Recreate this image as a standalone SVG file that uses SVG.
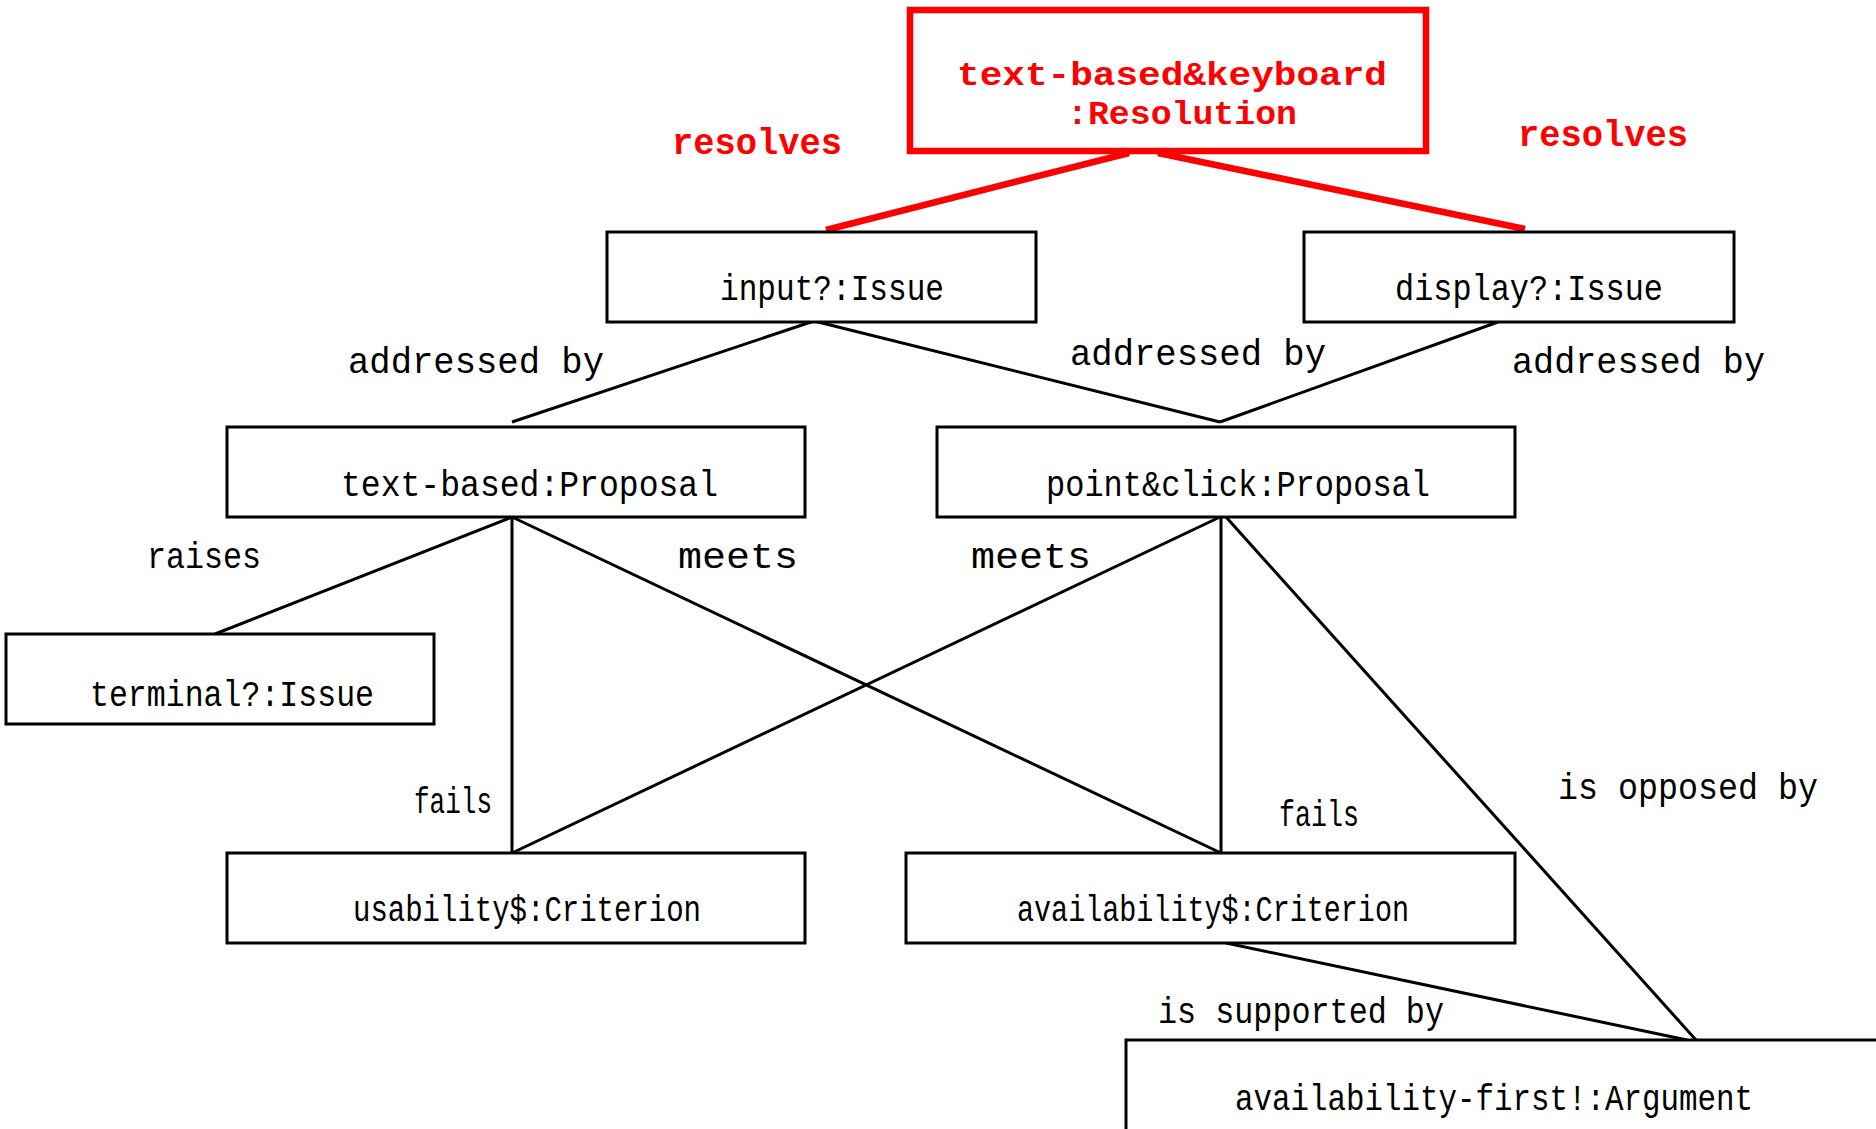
<svg xmlns="http://www.w3.org/2000/svg" width="1876" height="1129" viewBox="0 0 1876 1129">
  <style>
    .box { fill: #fff; stroke: #000; stroke-width: 3; }
    .res { fill: #fff; stroke: #ff0000; stroke-width: 6.5; }
    .lbl { font-family: "Liberation Mono", "DejaVu Sans Mono", monospace; font-size: 36px; fill: #000; }
    .rlbl { font-family: "Liberation Mono", "DejaVu Sans Mono", monospace; font-size: 37px; font-weight: bold; fill: #ff0000; }
    .rtitle { font-size: 34px; }
    .edge { stroke: #000; stroke-width: 3; fill: none; }
    .redge { stroke: #ff0000; stroke-width: 6.5; fill: none; }
  </style>
  <rect width="1876" height="1129" fill="#fff"/>

  <!-- connectors -->
  <g id="connectors">
    <line class="redge" x1="1129" y1="153" x2="826" y2="230"/>
    <line class="redge" x1="1158" y1="153" x2="1525" y2="229"/>
    <line class="edge" x1="814" y1="321" x2="512" y2="422"/>
    <line class="edge" x1="814" y1="321" x2="1220" y2="422"/>
    <line class="edge" x1="1498" y1="322" x2="1220" y2="422"/>
    <line class="edge" x1="512" y1="517" x2="215" y2="634"/>
    <line class="edge" x1="512" y1="517" x2="512" y2="853"/>
    <line class="edge" x1="512" y1="517" x2="1221" y2="853"/>
    <line class="edge" x1="1220" y1="517" x2="512" y2="853"/>
    <line class="edge" x1="1221" y1="517" x2="1221" y2="853"/>
    <line class="edge" x1="1226" y1="517" x2="1696" y2="1040"/>
    <line class="edge" x1="1226" y1="943" x2="1687" y2="1040"/>
    <text class="rlbl" x="672" y="154" textLength="170" lengthAdjust="spacingAndGlyphs">resolves</text>
    <text class="rlbl" x="1518" y="146" textLength="170" lengthAdjust="spacingAndGlyphs">resolves</text>
    <text class="lbl" x="348" y="373" textLength="256" lengthAdjust="spacingAndGlyphs">addressed by</text>
    <text class="lbl" x="1070" y="365" textLength="256" lengthAdjust="spacingAndGlyphs">addressed by</text>
    <text class="lbl" x="1512" y="373" textLength="253" lengthAdjust="spacingAndGlyphs">addressed by</text>
    <text class="lbl" x="147" y="568" textLength="114" lengthAdjust="spacingAndGlyphs">raises</text>
    <text class="lbl" x="678" y="568" textLength="120" lengthAdjust="spacingAndGlyphs">meets</text>
    <text class="lbl" x="971" y="568" textLength="120" lengthAdjust="spacingAndGlyphs">meets</text>
    <text class="lbl" x="414" y="813" textLength="78" lengthAdjust="spacingAndGlyphs">fails</text>
    <text class="lbl" x="1279" y="826" textLength="80" lengthAdjust="spacingAndGlyphs">fails</text>
    <text class="lbl" x="1558" y="799" textLength="260" lengthAdjust="spacingAndGlyphs">is opposed by</text>
    <text class="lbl" x="1158" y="1023" textLength="286" lengthAdjust="spacingAndGlyphs">is supported by</text>
  </g>

  <!-- nodes -->
  <g id="resolution">
    <rect class="res" x="910" y="10" width="516" height="141"/>
    <text class="rlbl rtitle" x="957" y="85" textLength="430" lengthAdjust="spacingAndGlyphs">text-based&amp;keyboard</text>
    <text class="rlbl rtitle" x="1067" y="124" textLength="230" lengthAdjust="spacingAndGlyphs">:Resolution</text>
  </g>
  <g id="input-issue">
    <rect class="box" x="607" y="232" width="429" height="90"/>
    <text class="lbl" x="720" y="300" textLength="224" lengthAdjust="spacingAndGlyphs">input?:Issue</text>
  </g>
  <g id="display-issue">
    <rect class="box" x="1304" y="232" width="430" height="90"/>
    <text class="lbl" x="1395" y="300" textLength="268" lengthAdjust="spacingAndGlyphs">display?:Issue</text>
  </g>
  <g id="text-based-proposal">
    <rect class="box" x="227" y="427" width="578" height="90"/>
    <text class="lbl" x="341" y="496" textLength="377" lengthAdjust="spacingAndGlyphs">text-based:Proposal</text>
  </g>
  <g id="point-click-proposal">
    <rect class="box" x="937" y="427" width="578" height="90"/>
    <text class="lbl" x="1046" y="496" textLength="384" lengthAdjust="spacingAndGlyphs">point&amp;click:Proposal</text>
  </g>
  <g id="terminal-issue">
    <rect class="box" x="6" y="634" width="428" height="90"/>
    <text class="lbl" x="90" y="706" textLength="284" lengthAdjust="spacingAndGlyphs">terminal?:Issue</text>
  </g>
  <g id="usability-criterion">
    <rect class="box" x="227" y="853" width="578" height="90"/>
    <text class="lbl" x="353" y="921" textLength="348" lengthAdjust="spacingAndGlyphs">usability$:Criterion</text>
  </g>
  <g id="availability-criterion">
    <rect class="box" x="906" y="853" width="609" height="90"/>
    <text class="lbl" x="1017" y="921" textLength="392" lengthAdjust="spacingAndGlyphs">availability$:Criterion</text>
  </g>
  <g id="availability-first-argument">
    <rect class="box" x="1126" y="1040" width="800" height="150"/>
    <text class="lbl" x="1235" y="1110" textLength="518" lengthAdjust="spacingAndGlyphs">availability-first!:Argument</text>
  </g>
</svg>
